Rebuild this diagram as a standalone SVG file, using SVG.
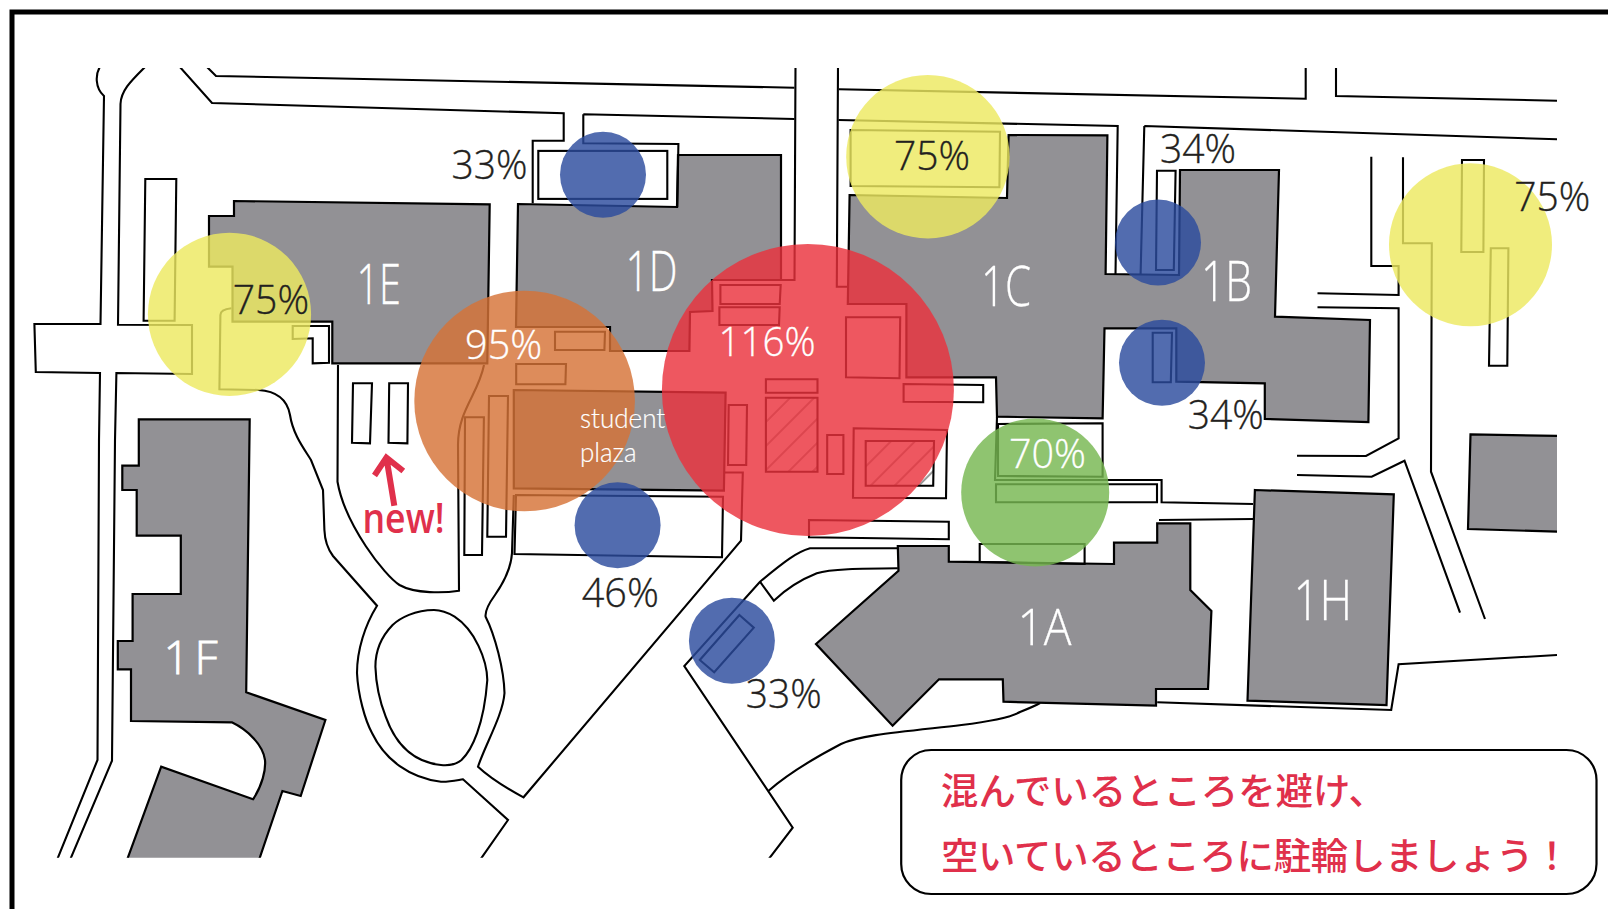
<svg xmlns="http://www.w3.org/2000/svg" width="1608" height="909" viewBox="0 0 1608 909">
<style>
.b{fill:#929195;stroke:#000;stroke-width:2.2;stroke-linejoin:miter}
.r{fill:none;stroke:#000;stroke-width:2.1;stroke-linejoin:miter}
.c{opacity:.82}
.t{font-family:"Open Sans","Noto Sans","Liberation Sans",sans-serif;font-weight:300;fill:#231f20;stroke:#231f20;stroke-width:.35}
.w{font-family:"Open Sans","Noto Sans","Liberation Sans",sans-serif;font-weight:300;fill:#fff;stroke:#fff;stroke-width:.3}
.s{font-family:Lato,"Open Sans",sans-serif;font-weight:300;font-size:28px;fill:#fff;stroke:#fff;stroke-width:.2}
.p{font-size:41px}
.l{font-size:55px}
.j{font-family:"Noto Sans CJK JP","Noto Sans CJK SC",sans-serif;font-size:37.4px;font-weight:500;fill:#e0304b}
</style>
<defs>
<clipPath id="map"><rect x="0" y="68" width="1557" height="789.7"/></clipPath>
<pattern id="hatch" width="17" height="17" patternUnits="userSpaceOnUse" patternTransform="rotate(45)"><rect width="17" height="17" fill="#fff"/><line x1="7" y1="0" x2="7" y2="17" stroke="#000" stroke-width=".8"/></pattern>
</defs>
<rect width="1608" height="909" fill="#fff"/>
<path id="frame" d="M12 909V12H1608" fill="none" stroke="#000" stroke-width="5"/>
<g clip-path="url(#map)">
<g id="building-1E"><polygon class="b" points="234,201 489.7,204.3 487.3,363.3 332.3,363.3 332.3,321.7 232.5,321.7 232.5,266.7 209,266.7 209,216 234,216"/></g>
<g id="building-1D"><polygon class="b" points="518,204 677,207 678,155 781,155 781,280 712,280 712.5,311 690,312 689.4,351 610,351 610,327 516,327"/></g>
<g id="building-1C-1B"><polygon class="b" points="849.6,195 1007,198 1008.6,135 1107.4,135.3 1105.6,274 1179,275 1180,170 1279,170 1275,316.7 1370,320 1368.4,422 1264.8,419 1264.8,383.3 1176.3,381.7 1176.3,328.3 1104.5,328.3 1102.6,418.3 997,416.7 996,377.3 906.4,377.3 906.4,304 847.8,304"/></g>
<g id="building-plaza"><polygon class="b" points="513.8,390 725.6,392.7 723.9,490.7 513.8,488.3"/></g>
<g id="building-1A"><polygon class="b" points="816,644 898.5,570.7 897.8,546 948.8,546 948.8,561.7 1114,564 1114,542.7 1157.2,542.7 1157.2,523.3 1190.3,523.3 1190.3,590 1211.4,611 1208,689 1156,689 1156,705.7 1003.5,701.7 1002.8,679.3 939,679.3 892.6,725.7"/></g>
<g id="building-1H"><polygon class="b" points="1254.9,490 1393.8,494.3 1386.5,705 1247.5,700.7"/></g>
<g id="building-right"><polygon class="b" points="1470.5,434.3 1560,436 1560,531.8 1468,529"/></g>
<g id="building-1F"><path class="b" d="M138.8,419.3L249.7,419.3L246.2,692.3L325.4,720L300.7,796L282.4,791L259,860L127,860L161.2,766.7L253,799.3C262,786 266,770 265,760C263,745 248,730 231.8,722.3L131,721L131,669.3L117.8,669.3L117.8,641L132.6,641L132.6,594L180.8,594L180.8,535.7L136.7,535.7L136.7,490L122.3,490L122.3,465.7L138.8,465.7Z"/></g>
<g id="connectors">
<path class="r" d="M100.5,66C95,74 95,88 104,96L100.5,324L34.4,324L35.8,372L100,373L99,440L97.5,760L57,860"/>
<path class="r" d="M146,66C132,80 121,90 120.5,104L118,324.7L192,325L192,374L116.4,373L115,440L112,760.7L70,860"/>
<path class="r" d="M179,66L212,103L563.7,113.3L563.7,140.7L532.7,140.7L532.7,203.3"/>
<path class="r" d="M206,66L216,76L794.4,87.7"/>
<path class="r" d="M795.5,66L794.5,280L781,280"/>
<path class="r" d="M583.3,114.3L794.4,119M583.3,114.3L583.3,143.3L678.4,144L677.3,207.3"/>
<rect class="r" x="538.3" y="150.9" width="129" height="48"/>
<path class="r" d="M838,66L836.8,286.7L847.8,286.7"/>
<path class="r" d="M839,89.3L1305.7,98.7L1305.7,66M838.5,120L1117.7,126L1115.5,274"/>
<polygon class="r" style="fill:#fff" points="850.6,130 1000,131.7 999.4,187.3 850.6,186"/>
<path class="r" d="M1336,66L1336,96L1557,100.7M1144.3,126L1557,139.3M1144.3,126L1140.6,274"/>
<polygon class="r" points="1157,170.7 1175.6,170.7 1173.8,270 1156,270"/>
<polygon class="r" points="1152.7,332.7 1172,332.7 1170.8,382.3 1152.7,382.3"/>
<path class="r" d="M1371.3,156.7L1371.3,266L1398.6,266L1398.6,295L1317.5,293.3"/>
<path class="r" d="M1403,157.3L1403,243.3L1431.8,243.3L1431,471.7L1485,619"/>
<polygon class="r" points="1462,160 1484,160 1483.4,252 1461.3,252"/>
<polygon class="r" points="1490.8,248.3 1508.4,248.3 1507.3,365.7 1489,365.7"/>
<path class="r" d="M1317.5,307.3L1398.6,308.3L1398.6,438.3L1366,456L1297,455.7"/>
<path class="r" d="M1297,475L1371.7,476.7L1404.5,460.7L1460,612.7"/>
<path class="r" d="M1557,655L1398.6,664.3L1391.2,710L1157.2,702.3"/>
<path class="r" d="M997,416.7L995,480L1161.6,480L1161.6,502.3L1253,504M1159,520L1253,519"/>
<polygon class="r" points="998,424 1102.6,423.3 1102.6,476.7 998,476"/>
<polygon class="r" points="996,484.3 1157,484.3 1157,502.3 996,502.3"/>
<polygon class="r" points="979.7,562 979.7,544 1084.6,544 1084.6,564"/>
<polygon class="r" points="809,520 948.8,521.7 948.8,539.3 809,537.3"/>
<polygon class="r" points="720.4,285 780.7,285 779.7,304 720.4,304"/>
<polygon class="r" points="719.4,307.3 779.7,307.3 779,325 719.4,325"/>
<polygon class="r" points="846,317.3 900.2,317.3 899.5,378.3 846,377.3"/>
<polygon class="r" points="765.9,379.3 817.5,379.3 817.5,392.7 765.9,392.7"/>
<polygon class="r" style="fill:url(#hatch)" points="765.9,397.7 817.5,397.7 817.5,471.7 765.9,471.7"/>
<polygon class="r" points="728.7,405 747,405 746.2,465 728,465"/>
<polygon class="r" points="827.2,435 843.4,435 843.4,474 827.2,474"/>
<polygon class="r" points="903.6,384 983.2,385 983.2,402.3 903.6,401.7"/>
<polygon class="r" points="853.7,428.3 947,430 946,498.3 853,497.7"/>
<polygon class="r" style="fill:url(#hatch)" points="865.7,441 934,441 933.2,485.7 865.7,485.7"/>
<polygon class="r" points="555,331.7 605,331.7 604.4,350 555,350"/>
<polygon class="r" points="516.2,364 566,364 565.4,384.3 516.2,384.3"/>
<polygon class="r" points="465,417.3 483.9,417.3 482,555 464.3,555"/>
<polygon class="r" points="489,396 508,396 506,536.7 487.3,536.7"/>
<polygon class="r" points="516,495 723,496.7 722,557.3 514.5,554"/>
<polygon class="r" points="145.3,179 176.3,179 174.6,320.7 143.6,320.7"/>
<polygon class="r" points="353,383.3 372,383.3 370,443.3 352,442.7"/>
<polygon class="r" points="389.2,383.3 408,383.3 407.4,443.3 388.5,442.7"/>
<path class="r" d="M292.7,326L329,326L329,362.7L312.7,363.3L312.7,338.3L292.7,339Z"/>
<path class="r" d="M484,365C478,395 458,410 458,445L459,590.7C445,593 415,594 399.5,585C385,576 345,525 337.5,481.7L338,365"/>
<path class="r" d="M231.4,308.3C225,309 220.4,311 220.4,315L219.4,389.3L258.3,390C275,391 287,398 290,415C293,435 305,450 311,460L323,490L324.4,530C325,545 330,552 333,556L377,605.7C365,625 357,650 357,673C358,695 365,720 372,733C385,760 410,778 441,781.7C450,782 458,780 463,779.3L508,820L480,860"/>
<path class="r" d="M513.8,495L512,553C511,570 502,585 495,595C487,606 485,612 485.6,616.7C495,635 504,670 504.5,693C503,715 485,745 478,766.7C490,778 510,790 523.5,797.3L741,540.7L742.8,472.5L724.5,472.5"/>
<path class="r" d="M434,610C415,610 400,618 392.6,625C380,638 375.4,652 375.4,666.7C376,685 380,702 385.7,716.7C394,740 410,762 441,765C452,766 458,763 461.5,760C472,750 484,725 487.3,680C487,660 475,630 454.6,616.7C447,612 440,610 434,610Z"/>
<path class="r" d="M897.8,548.3L810,548.3C797,552 785,561 760,581.7L684.3,666L792.7,827.7L768,860"/>
<path class="r" d="M760,581.7L773.8,600.7C785,590 800,580 816.8,573.3C830,569 860,568.5 897.8,568.3"/>
<path class="r" d="M768.6,790.7C790,772 820,755 841,744C860,735 900,732 961.5,725C985,722 1010,718 1020,712C1030,708 1035,706 1040,703"/>
<polygon class="r" points="739.4,615 753.8,627.7 714.2,672.3 699.8,660"/>
</g>
</g>
<g id="circles">
<circle class="c" cx="229.5" cy="314.3" r="81.6" fill="#ede960"/>
<circle class="c" cx="524.6" cy="401" r="110.3" fill="#d67337"/>
<circle class="c" cx="807.9" cy="390" r="146" fill="#ea323d"/>
<circle class="c" cx="927.9" cy="156.7" r="81.7" fill="#ede960"/>
<circle class="c" cx="603" cy="174.8" r="43" fill="#2c4c9e"/>
<circle class="c" cx="617.6" cy="525.2" r="43" fill="#2c4c9e"/>
<circle class="c" cx="731.9" cy="640.7" r="43" fill="#2c4c9e"/>
<circle class="c" cx="1158" cy="242.5" r="43" fill="#2c4c9e"/>
<circle class="c" cx="1162" cy="362.8" r="43" fill="#2c4c9e"/>
<circle class="c" cx="1470.5" cy="244.7" r="81.5" fill="#ede960"/>
<circle class="c" cx="1035.2" cy="492.5" r="74" fill="#76b751"/>
</g>
<g id="labels">
<text class="t p" x="232.7" y="314" textLength="76.3" lengthAdjust="spacingAndGlyphs">75%</text>
<text class="t p" x="451.4" y="179" textLength="76" lengthAdjust="spacingAndGlyphs">33%</text>
<text class="w p" x="465.1" y="359" textLength="77" lengthAdjust="spacingAndGlyphs">95%</text>
<text class="w p" x="718.5" y="356" textLength="97" lengthAdjust="spacingAndGlyphs">116%</text>
<text class="t p" x="893.9" y="170" textLength="76" lengthAdjust="spacingAndGlyphs">75%</text>
<text class="t p" x="1160.1" y="163" textLength="76" lengthAdjust="spacingAndGlyphs">34%</text>
<text class="t p" x="1514.3" y="210.5" textLength="76" lengthAdjust="spacingAndGlyphs">75%</text>
<text class="t p" x="1187.7" y="429" textLength="76" lengthAdjust="spacingAndGlyphs">34%</text>
<text class="w p" x="1009" y="468" textLength="77" lengthAdjust="spacingAndGlyphs">70%</text>
<text class="t p" x="581.8" y="607" textLength="77" lengthAdjust="spacingAndGlyphs">46%</text>
<text class="t p" x="745.8" y="708" textLength="76" lengthAdjust="spacingAndGlyphs">33%</text>
<text class="w l" x="356.5" y="304" textLength="44.5" lengthAdjust="spacingAndGlyphs">1E</text>
<text class="w l" x="625.5" y="291" textLength="52" lengthAdjust="spacingAndGlyphs">1D</text>
<text class="w l" x="981" y="306" textLength="50" lengthAdjust="spacingAndGlyphs">1C</text>
<text class="w l" x="1201" y="301" textLength="51" lengthAdjust="spacingAndGlyphs">1B</text>
<text class="w" style="font-size:46px;stroke-width:.8" x="163.5" y="674" textLength="54" lengthAdjust="spacing">1F</text>
<text class="w" style="font-size:50px" x="1017.5" y="645" textLength="54" lengthAdjust="spacingAndGlyphs">1A</text>
<text class="w l" x="1293.5" y="620" textLength="58.5" lengthAdjust="spacingAndGlyphs">1H</text>
<text class="s" x="579.9" y="428" textLength="85.4" lengthAdjust="spacingAndGlyphs">student</text>
<text class="s" x="579.9" y="462" textLength="56.8" lengthAdjust="spacingAndGlyphs">plaza</text>
</g>
<g id="new-note">
<path d="M394.3,505.7L386.8,460M374.5,475.5L386.4,457.7L403.3,471" fill="none" stroke="#e0304b" stroke-width="6"/>
<text x="362.5" y="532.7" textLength="82" lengthAdjust="spacingAndGlyphs" style="font-family:'Open Sans','Noto Sans',sans-serif;font-size:41px;font-weight:600;fill:#e0304b">new!</text>
</g>
<g id="notice">
<rect x="901.2" y="750" width="695.3" height="144" rx="30" ry="30" fill="#fff" stroke="#000" stroke-width="2.2"/>
<text class="j" x="941" y="805">混んでいるところを避け、</text>
<text class="j" x="941" y="870" letter-spacing="-.3">空いているところに駐輪しましょう！</text>
</g>
</svg>
